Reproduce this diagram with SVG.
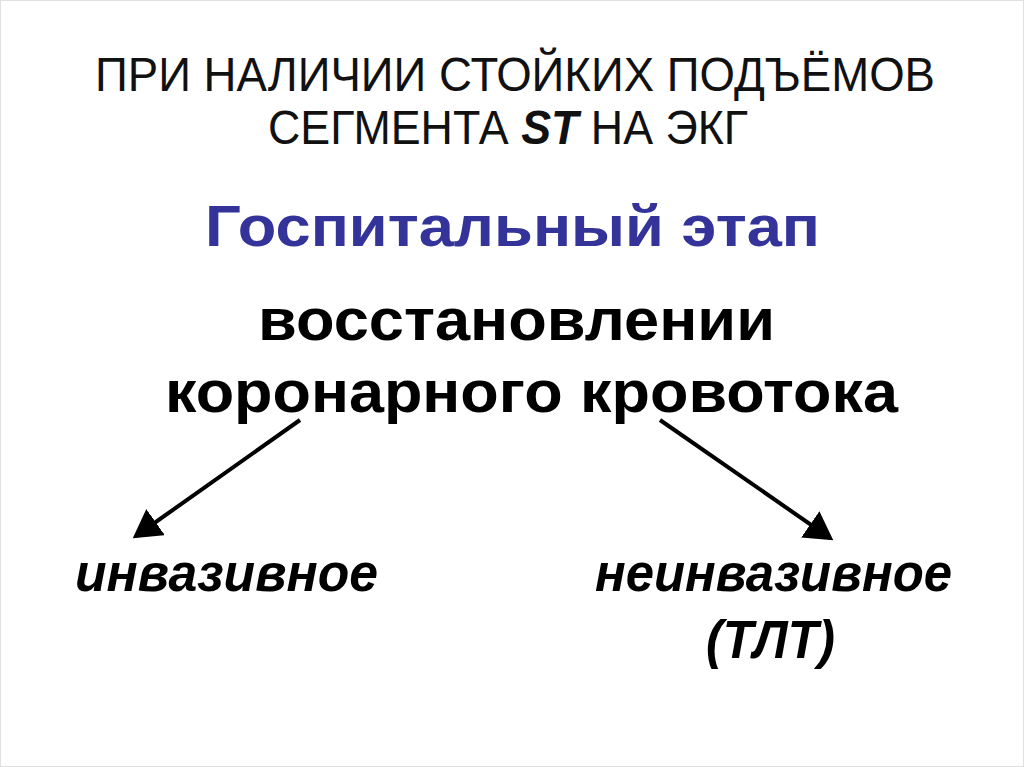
<svg xmlns="http://www.w3.org/2000/svg" width="1024" height="767" viewBox="0 0 1024 767">
<style>
.t{font-family:"Liberation Sans",Arial,sans-serif}
.h{font-size:48px;fill:#111}
.b{font-weight:bold;fill:#000;font-size:60px}
.i{font-weight:bold;font-style:italic;fill:#000;font-size:54px}
.c{stroke:#000;stroke-width:4;fill:none}
</style>
<defs><marker id="a" markerWidth="8" markerHeight="8" refX="6" refY="4" orient="auto" markerUnits="strokeWidth"><path d="M0,0 L7,4 L0,8 Z" fill="#000"/></marker></defs>
<rect x="0.5" y="0.5" width="1023" height="766" fill="#fff" stroke="#e0e0e0"/>
<g id="title"><text class="t h" x="95" y="91" textLength="840" lengthAdjust="spacingAndGlyphs">ПРИ НАЛИЧИИ СТОЙКИХ ПОДЪЁМОВ</text>
<text class="t h" x="268" y="144" textLength="480" lengthAdjust="spacingAndGlyphs">СЕГМЕНТА <tspan font-weight="bold" font-style="italic">ST</tspan> НА ЭКГ</text></g>
<g id="stage"><text class="t" x="205" y="246" font-size="58" font-weight="bold" fill="#333399" textLength="615" lengthAdjust="spacingAndGlyphs">Госпитальный этап</text></g>
<g id="main"><text class="t b" x="258" y="340" textLength="517" lengthAdjust="spacingAndGlyphs">восстановлении</text>
<text class="t b" x="165" y="412" textLength="733" lengthAdjust="spacingAndGlyphs">коронарного кровотока</text></g>
<g id="connectors"><line class="c" x1="300" y1="420" x2="136" y2="536" marker-end="url(#a)"/>
<line class="c" x1="660" y1="420" x2="830" y2="538" marker-end="url(#a)"/></g>
<g id="inv"><text class="t i" x="75" y="591" textLength="303" lengthAdjust="spacingAndGlyphs">инвазивное</text></g>
<g id="noninv"><text class="t i" x="595" y="591" textLength="357" lengthAdjust="spacingAndGlyphs">неинвазивное</text>
<text class="t i" x="706" y="658" textLength="129" lengthAdjust="spacingAndGlyphs">(ТЛТ)</text></g>
</svg>
